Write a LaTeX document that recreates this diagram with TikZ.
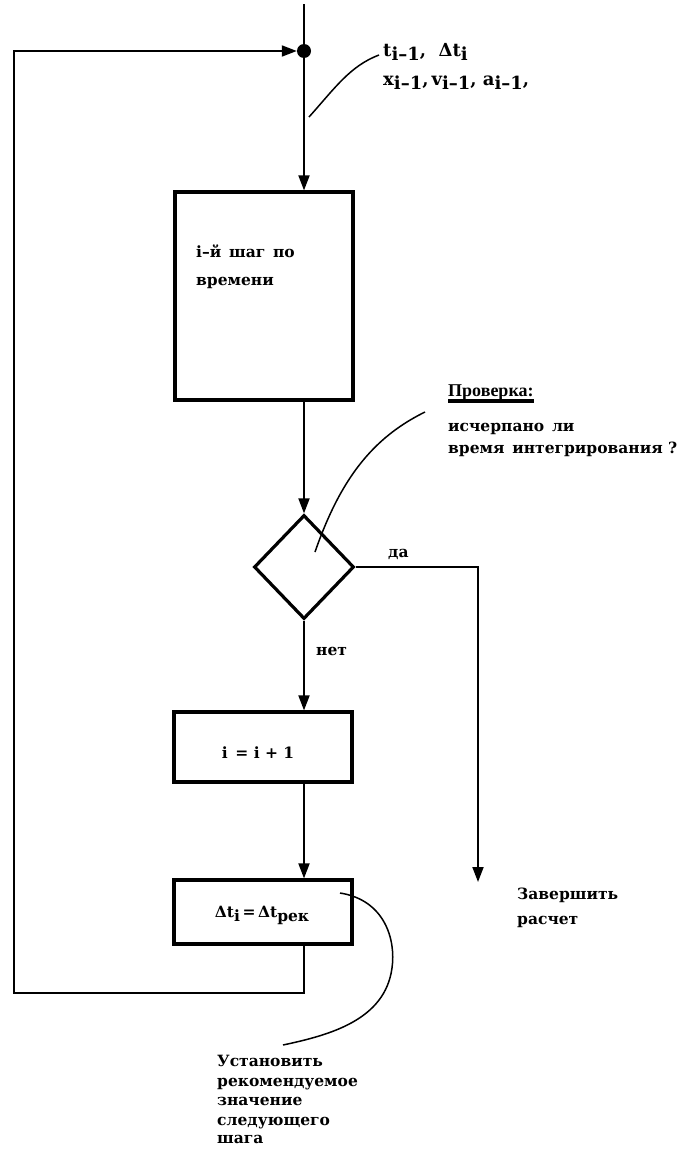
\documentclass[tikz,border=0pt]{standalone}
\usepackage{fontspec}
\setmainfont{DejaVu Serif}
\newfontfamily\timesf{Liberation Serif}
\usetikzlibrary{shapes.geometric,arrows.meta}
\newcommand\lowr[1]{\raisebox{-0.5ex}{#1}}
\begin{document}
\begin{tikzpicture}[x=1pt,y=-1pt,
  box/.style={draw, line width=3.2pt, minimum width=178pt, inner sep=0pt},
  conn/.style={line width=1.8pt},
  arr/.style={conn, -{Triangle[length=15pt,width=11pt]}},
  txt/.style={font=\fontsize{15.5}{19}\selectfont\bfseries, inner sep=0pt, anchor=base west},
  bigtxt/.style={font=\fontsize{18}{22}\selectfont\bfseries, inner sep=0pt, anchor=base west},
  ptr/.style={line width=1.5pt},
]
\useasboundingbox[fill=white] (0,0) rectangle (682,1151);

% nodes
\coordinate (top) at (304,4);
\node[circle, fill=black, inner sep=0pt, minimum size=14pt] (dot) at (304,51) {};
\node[box, minimum height=208pt] (box1) at (264,296) {};
\node[draw, diamond, line width=3.2pt, inner sep=0pt, minimum width=100pt, minimum height=104pt] (dia) at (304,567) {};
\node[box, minimum height=70pt] (box2) at (263,747) {};
\node[box, minimum height=64pt] (box3) at (263,912) {};
\coordinate (loopR) at (304,993);
\coordinate (loopL) at (14,993);
\coordinate (loopT) at (14,51);
\coordinate (daC) at (478,567);
\coordinate (daEnd) at (478,882);

% texts
\node[bigtxt] (lab1) at (383,56) {t\lowr{i–1},\ \ Δt\lowr{i}};
\node[bigtxt] (lab2) at (383,85) {x\lowr{i–1},\,v\lowr{i–1},\ a\lowr{i–1},};
\node[txt] (b1a) at (196,257) {i–й\enspace шаг\enspace по};
\node[txt] (b1b) at (196,285) {времени};
\node[inner sep=0pt, anchor=base west, font=\timesf\bfseries\fontsize{18}{22}\selectfont] (prov) at (448,396) {Проверка:};
\node[txt] (chk1) at (448,431) {исчерпано\enspace ли};
\node[txt] (chk2) at (448,453) {время\enspace интегрирования ?};
\node[txt] (da) at (388,557) {да};
\node[txt] (net) at (316,655) {нет};
\node[txt, anchor=base] (b2t) at (258,758) {i\enspace= i + 1};
\node[txt, anchor=base] (b3t) at (262,917) {Δt\lowr{i}\,=\,Δt\lowr{рек}};
\node[txt] (end1) at (517,899) {Завершить};
\node[txt] (end2) at (517,924) {расчет};
\node[txt] (s1) at (217,1066) {Установить};
\node[txt] (s2) at (217,1086) {рекомендуемое};
\node[txt] (s3) at (217,1105) {значение};
\node[txt] (s4) at (217,1125) {следующего};
\node[txt] (s5) at (217,1143) {шага};

% underline
\draw[line width=3.5pt] ([yshift=-5pt]prov.base west) -- ([yshift=-5pt]prov.base east);

% connectors
\draw[conn] (top) -- (dot);
\draw[arr] (dot) -- (dot |- box1.north);
\draw[arr] (box1.south -| dot) -- (dia.north);
\draw[arr] (dia.south) -- (box2.north -| dia.south);
\draw[arr] (box2.south -| dia.south) -- (box3.north -| dia.south);
\draw[arr] (box3.south -| loopR) -- (loopR) -- (loopL) -- (loopT) -- (dot.west);
\draw[arr] (dia.east) -- (daC) -- (daEnd);

% pointer lines
\draw[ptr] (309,117) .. controls (335,88) and (350,66) .. (379,55);
\draw[ptr] (315,552) .. controls (340,480) and (372,438) .. (425,412);
\draw[ptr] (340,893) .. controls (385,900) and (396,940) .. (392,968)
           .. controls (385,1020) and (330,1035) .. (283,1045);
\end{tikzpicture}
\end{document}
